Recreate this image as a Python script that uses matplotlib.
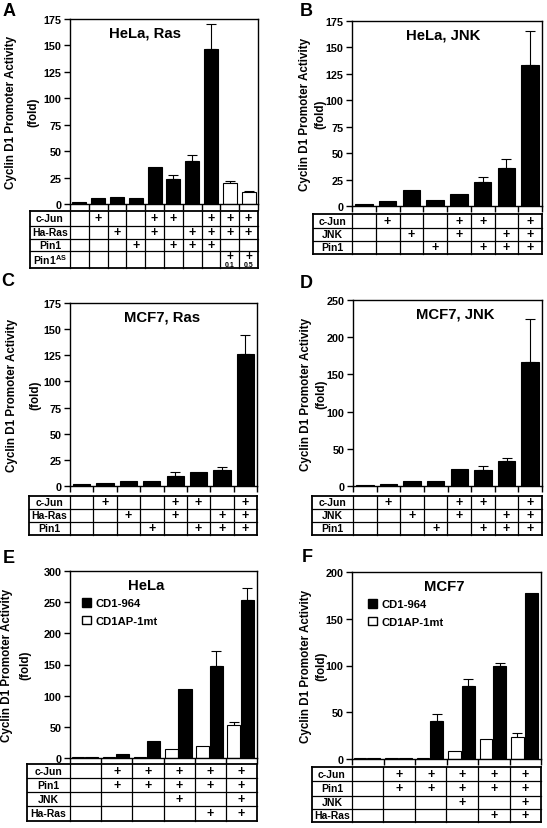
import numpy as np
import matplotlib
matplotlib.use('Agg')
import matplotlib.pyplot as plt
from matplotlib.patches import Patch

plt.rcParams['font.family'] = ['Liberation Sans', 'DejaVu Sans']
plt.rcParams['font.weight'] = 'bold'
plt.rcParams['mathtext.fontset'] = 'custom'
plt.rcParams['mathtext.rm'] = 'Liberation Sans:bold'
plt.rcParams['mathtext.bf'] = 'Liberation Sans:bold'
plt.rcParams['axes.linewidth'] = 1.0

W, H = 547, 829

# ---------------- data ----------------
# A: HeLa, Ras
a_vals = [1.5, 5.5, 6.5, 5.5, 35, 23.5, 41, 147, 20, 11]
a_err = [0, 0, 0, 0, 0, 4, 5, 23, 1.8, 1.6]
a_white = [0, 0, 0, 0, 0, 0, 0, 0, 1, 1]
a_rows = ['c-Jun', 'Ha-Ras', 'Pin1', r'Pin1$^{\rm AS}$']
a_cjun = [0, 1, 0, 0, 1, 1, 0, 1, 1, 1]
a_ras = [0, 0, 1, 0, 1, 0, 1, 1, 1, 1]
a_pin1 = [0, 0, 0, 1, 0, 1, 1, 1, 0, 0]
a_pin1as = ['', '', '', '', '', '', '', '', '0.1', '0.5']

# B: HeLa, JNK
b_vals = [2, 5, 15.6, 5.6, 11, 23, 36, 133]
b_err = [0, 0, 0, 0, 0, 4, 8, 33]
b_rows = ['c-Jun', 'JNK', 'Pin1']
b_cjun = [0, 1, 0, 0, 1, 1, 0, 1]
b_jnk = [0, 0, 1, 0, 1, 0, 1, 1]
b_pin1 = [0, 0, 0, 1, 0, 1, 1, 1]

# C: MCF7, Ras
c_vals = [1.5, 2.8, 5.2, 4.7, 10, 13.4, 15.5, 126.5]
c_err = [0, 0, 0, 0, 3, 0, 2.2, 17.5]
c_rows = ['c-Jun', 'Ha-Ras', 'Pin1']
c_cjun = [0, 1, 0, 0, 1, 1, 0, 1]
c_ras = [0, 0, 1, 0, 1, 0, 1, 1]
c_pin1 = [0, 0, 0, 1, 0, 1, 1, 1]

# D: MCF7, JNK
d_vals = [1.5, 3, 6.7, 6.7, 22.3, 21, 33.5, 167]
d_err = [0, 0, 0, 0, 0, 6, 4, 58]
d_rows = ['c-Jun', 'JNK', 'Pin1']
d_cjun = [0, 1, 0, 0, 1, 1, 0, 1]
d_jnk = [0, 0, 1, 0, 1, 0, 1, 1]
d_pin1 = [0, 0, 0, 1, 0, 1, 1, 1]

# E: HeLa, two reporters
e_black = [1, 6.4, 28, 110, 147, 253]
e_black_err = [0, 0, 0, 0, 24, 19]
e_white = [1, 1, 1, 14.5, 20, 53]
e_white_err = [0, 0, 0, 0, 0, 5]
e_rows = ['c-Jun', 'Pin1', 'JNK', 'Ha-Ras']
e_cjun = [0, 1, 1, 1, 1, 1]
e_pin1 = [0, 1, 1, 1, 1, 1]
e_jnk = [0, 0, 0, 1, 0, 1]
e_ras = [0, 0, 0, 0, 1, 1]

# F: MCF7, two reporters
f_black = [1, 1.5, 41, 78, 99, 178]
f_black_err = [0, 0, 7, 8, 4, 0]
f_white = [1, 1, 1.5, 9, 21, 23.5]
f_white_err = [0, 0, 0, 0, 0, 4.5]
f_rows = ['c-Jun', 'Pin1', 'JNK', 'Ha-Ras']
f_cjun = [0, 1, 1, 1, 1, 1]
f_pin1 = [0, 1, 1, 1, 1, 1]
f_jnk = [0, 0, 0, 1, 0, 1]
f_ras = [0, 0, 0, 0, 1, 1]

legend_labels = ['CD1-964', 'CD1AP-1mt']

fig = plt.figure(figsize=(W / 100, H / 100), dpi=100)


def px_axes(l, t, r, b):
    return fig.add_axes([l / W, 1 - b / H, (r - l) / W, (b - t) / H])


def errbars(ax, x, vals, err, sym=False):
    x = np.asarray(x, float)
    vals = np.asarray(vals, float)
    err = np.asarray(err, float)
    m = err > 0
    if not m.any():
        return
    lo = err[m] if sym else np.zeros(m.sum())
    ax.errorbar(x[m], vals[m], yerr=[lo, err[m]], fmt='none', ecolor='black',
                elinewidth=0.8, capsize=3.5, capthick=0.8, zorder=1)


def chart(box, n, ymax, ystep, title, title_x, ylab_off, letter, letter_xy):
    l, t, r, b = box
    ax = px_axes(l, t, r, b)
    ax.set_xlim(0, n)
    ax.set_ylim(0, ymax)
    ax.set_yticks(np.arange(0, ymax + 1, ystep))
    ax.set_xticks(np.arange(0, n + 1))
    ax.tick_params(axis='y', direction='out', length=4, width=1, labelsize=7.8, pad=2)
    ax.tick_params(axis='x', direction='out', length=4, width=1, labelbottom=False)
    for lab in ax.get_yticklabels():
        lab.set_fontweight('bold')
    ax.text(title_x, 0.925, title, transform=ax.transAxes, ha='center', va='center',
            fontsize=10.7, fontweight='bold')
    w = r - l
    ax.text(ylab_off[0] / w, 0.5, 'Cyclin D1 Promoter Activity', transform=ax.transAxes,
            rotation=90, ha='center', va='center', fontsize=8.4, fontweight='bold')
    ax.text(ylab_off[1] / w, 0.5, '(fold)', transform=ax.transAxes,
            rotation=90, ha='center', va='center', fontsize=8.4, fontweight='bold')
    fig.text(letter_xy[0] / W, 1 - letter_xy[1] / H, letter, ha='center', va='center',
             fontsize=13, fontweight='bold')
    return ax


def table(box, n, tleft, edges, labels, marks):
    l, t, r, b = box
    colw = (r - l) / n
    x0 = -(l - tleft) / colw
    tax = px_axes(tleft, edges[0], r, edges[-1])
    tax.set_xlim(x0, n)
    tax.set_ylim(edges[-1], edges[0])
    tax.axis('off')
    for k, y in enumerate(edges):
        lw = 1.3 if k in (0, len(edges) - 1) else 0.9
        tax.plot([x0, n], [y, y], color='black', lw=lw, clip_on=False,
                 solid_capstyle='projecting')
    xs = [x0] + list(range(n + 1))
    for k, x in enumerate(xs):
        lw = 1.3 if k in (0, len(xs) - 1) else 0.9
        tax.plot([x, x], [edges[0], edges[-1]], color='black', lw=lw, clip_on=False,
                 solid_capstyle='projecting')
    for i, (lab, row) in enumerate(zip(labels, marks)):
        yc = (edges[i] + edges[i + 1]) / 2
        tax.text(x0 / 2, yc, lab, ha='center', va='center', fontsize=7.5, fontweight='bold')
        for j, m in enumerate(row):
            if isinstance(m, str):
                if m:
                    tax.text(j + 0.5, yc - 3, '+', ha='center', va='center',
                             fontsize=8.5, fontweight='bold')
                    tax.text(j + 0.5, yc + 4.8, m, ha='center', va='center',
                             fontsize=5, fontweight='bold')
            elif m:
                tax.text(j + 0.5, yc, '+', ha='center', va='center',
                         fontsize=9, fontweight='bold')


def single_bars(ax, vals, err, white=None):
    x = np.arange(len(vals)) + 0.5
    cols = ['white' if (white is not None and white[i]) else 'black' for i in range(len(vals))]
    ax.bar(x, vals, width=0.74, color=cols, edgecolor='black', linewidth=0.8, zorder=2)
    errbars(ax, x, vals, err)


def paired_bars(ax, black, black_err, white, white_err, fx):
    x = np.arange(len(black))
    ax.bar(x + 0.25, white, width=0.4, color='white', edgecolor='black', linewidth=0.8, zorder=2)
    ax.bar(x + 0.69, black, width=0.42, color='black', edgecolor='black', linewidth=0.8, zorder=2)
    errbars(ax, x + 0.25, white, white_err, sym=True)
    errbars(ax, x + 0.69, black, black_err)
    handles = [Patch(facecolor='black', edgecolor='black', label=legend_labels[0]),
               Patch(facecolor='white', edgecolor='black', label=legend_labels[1])]
    leg = ax.legend(handles=handles, loc='upper left', bbox_to_anchor=(fx, 0.855),
                    frameon=False, fontsize=8.1, handlelength=0.8, handleheight=0.8,
                    handletextpad=0.4, labelspacing=0.65, borderpad=0, borderaxespad=0)
    for txt in leg.get_texts():
        txt.set_fontweight('bold')


# A
box = (70, 20, 258, 205)
ax = chart(box, 10, 175, 25, 'HeLa, Ras', 0.40, (-59, -37), 'A', (9, 12))
single_bars(ax, a_vals, a_err, a_white)
table(box, 10, 30, [212, 226.5, 240, 252, 268.5], a_rows, [a_cjun, a_ras, a_pin1, a_pin1as])

# B
box = (352, 22, 542, 207)
ax = chart(box, 8, 175, 25, 'HeLa, JNK', 0.48, (-47, -32), 'B', (306, 12))
single_bars(ax, b_vals, b_err)
table(box, 8, 313, [215, 229, 242, 255], b_rows, [b_cjun, b_jnk, b_pin1])

# C
box = (70, 304, 257, 487)
ax = chart(box, 8, 175, 25, 'MCF7, Ras', 0.49, (-58, -35), 'C', (8, 282))
single_bars(ax, c_vals, c_err)
table(box, 8, 29, [497, 510, 523, 536], c_rows, [c_cjun, c_ras, c_pin1])

# D
box = (353, 301, 542, 487)
ax = chart(box, 8, 250, 50, 'MCF7, JNK', 0.54, (-47, -32), 'D', (306, 283))
single_bars(ax, d_vals, d_err)
table(box, 8, 312, [497, 510, 523, 536], d_rows, [d_cjun, d_jnk, d_pin1])

# E
box = (70, 572, 257, 759)
ax = chart(box, 6, 300, 50, 'HeLa', 0.41, (-63, -45), 'E', (9, 559))
paired_bars(ax, e_black, e_black_err, e_white, e_white_err, 0.065)
table(box, 6, 27, [765, 779, 793, 807, 822], e_rows, [e_cjun, e_pin1, e_jnk, e_ras])

# F
box = (352, 573, 541, 760)
ax = chart(box, 6, 200, 50, 'MCF7', 0.49, (-46, -31), 'F', (307, 558))
paired_bars(ax, f_black, f_black_err, f_white, f_white_err, 0.085)
table(box, 6, 312, [768, 782, 797, 810, 823], f_rows, [f_cjun, f_pin1, f_jnk, f_ras])

fig.savefig('out.png', dpi=100)
